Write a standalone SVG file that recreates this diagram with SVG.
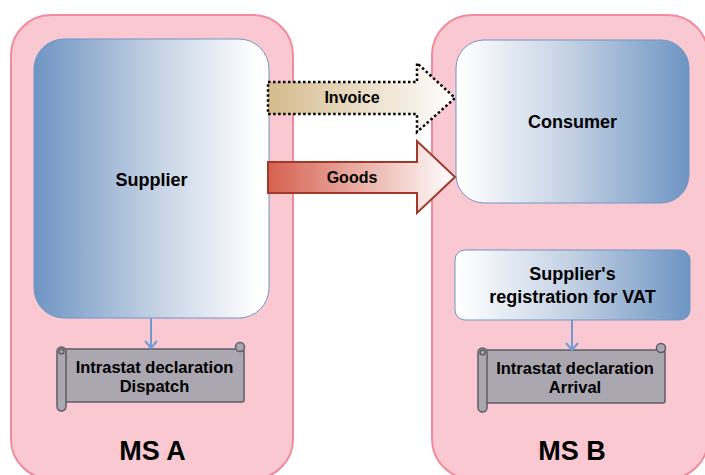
<svg xmlns="http://www.w3.org/2000/svg" width="705" height="475" viewBox="0 0 705 475">
<defs>
<linearGradient id="gBlueR" x1="0" y1="0" x2="1" y2="0">
<stop offset="0" stop-color="#6e95c3"/><stop offset="0.5" stop-color="#c2d0e3"/><stop offset="0.95" stop-color="#ffffff"/>
</linearGradient>
<linearGradient id="gBlueL" x1="0" y1="0" x2="1" y2="0">
<stop offset="0.02" stop-color="#ffffff"/><stop offset="0.5" stop-color="#c2d0e3"/><stop offset="1" stop-color="#6e95c3"/>
</linearGradient>
<linearGradient id="gInv" x1="0" y1="0" x2="1" y2="0">
<stop offset="0" stop-color="#d5bb8c"/><stop offset="1" stop-color="#ffffff"/>
</linearGradient>
<linearGradient id="gGoods" x1="0" y1="0" x2="1" y2="0">
<stop offset="0" stop-color="#d6604f"/><stop offset="1" stop-color="#ffffff"/>
</linearGradient>
<g id="scroll">
<rect x="62" y="349" width="182" height="53" rx="2"/>
<circle cx="240" cy="347" r="4.5"/>
<rect x="57" y="347" width="9" height="64" rx="4.5"/>
<circle cx="61.5" cy="351.5" r="2.5"/>
</g>
</defs>
<style>
.ms{fill:#f9c8d1;stroke:#f28a9c;stroke-width:2}
.box{stroke:#6f95c8;stroke-width:1}
.scr{fill:#aaa7b1;stroke:#5f5c68;stroke-width:1.5}
.conn{stroke:#6d9bd1;stroke-width:2;fill:none}
text{font-family:"Liberation Sans",Arial,sans-serif;font-weight:bold;fill:#000;text-anchor:middle}
.t18{font-size:18px}
.t16{font-size:16px}
.t165{font-size:16.5px}
.t27{font-size:27px}
</style>
<g id="msA"><rect class="ms" x="11" y="15" width="282" height="464" rx="40"/><text class="t27" x="152.5" y="460">MS A</text></g>
<g id="msB"><rect class="ms" x="432" y="15" width="276" height="464" rx="40"/><text class="t27" x="572" y="460">MS B</text></g>
<g id="supplier"><rect class="box" fill="url(#gBlueR)" x="34" y="39" width="235" height="279" rx="30"/><text class="t18" x="151.5" y="186">Supplier</text></g>
<g id="consumer"><rect class="box" fill="url(#gBlueL)" x="456" y="40" width="233" height="163" rx="28"/><text class="t18" x="572.5" y="128">Consumer</text></g>
<g id="registration"><rect class="box" fill="url(#gBlueL)" x="455" y="250" width="235" height="70" rx="10"/><text class="t18" x="572.5" y="280">Supplier's</text><text class="t18" x="572.5" y="303">registration for VAT</text></g>
<g id="dispatch"><use href="#scroll" class="scr"/><text class="t165" x="154.5" y="373">Intrastat declaration</text><text class="t165" x="154.5" y="392">Dispatch</text></g>
<g id="arrival"><use href="#scroll" class="scr" transform="translate(421,1)"/><text class="t165" x="575" y="374">Intrastat declaration</text><text class="t165" x="575" y="393">Arrival</text></g>
<g id="connectors">
<g id="invoice"><polygon points="268,82 417,82 417,63 455,98 417,132 417,114 268,114" fill="url(#gInv)" stroke="#000" stroke-width="2.5" stroke-dasharray="2.5,2.5"/><text class="t16" x="352" y="103">Invoice</text></g>
<g id="goods"><polygon points="268,162 417,162 417,141 455,177 417,213 417,193 268,193" fill="url(#gGoods)" stroke="#a0392a" stroke-width="2"/><text class="t16" x="352" y="183">Goods</text></g>
<path class="conn" d="M151,318 V348 M145,341 L151,348 L157,341"/>
<path class="conn" d="M572,320 V350 M566,343 L572,350 L578,343"/>
</g>
</svg>
